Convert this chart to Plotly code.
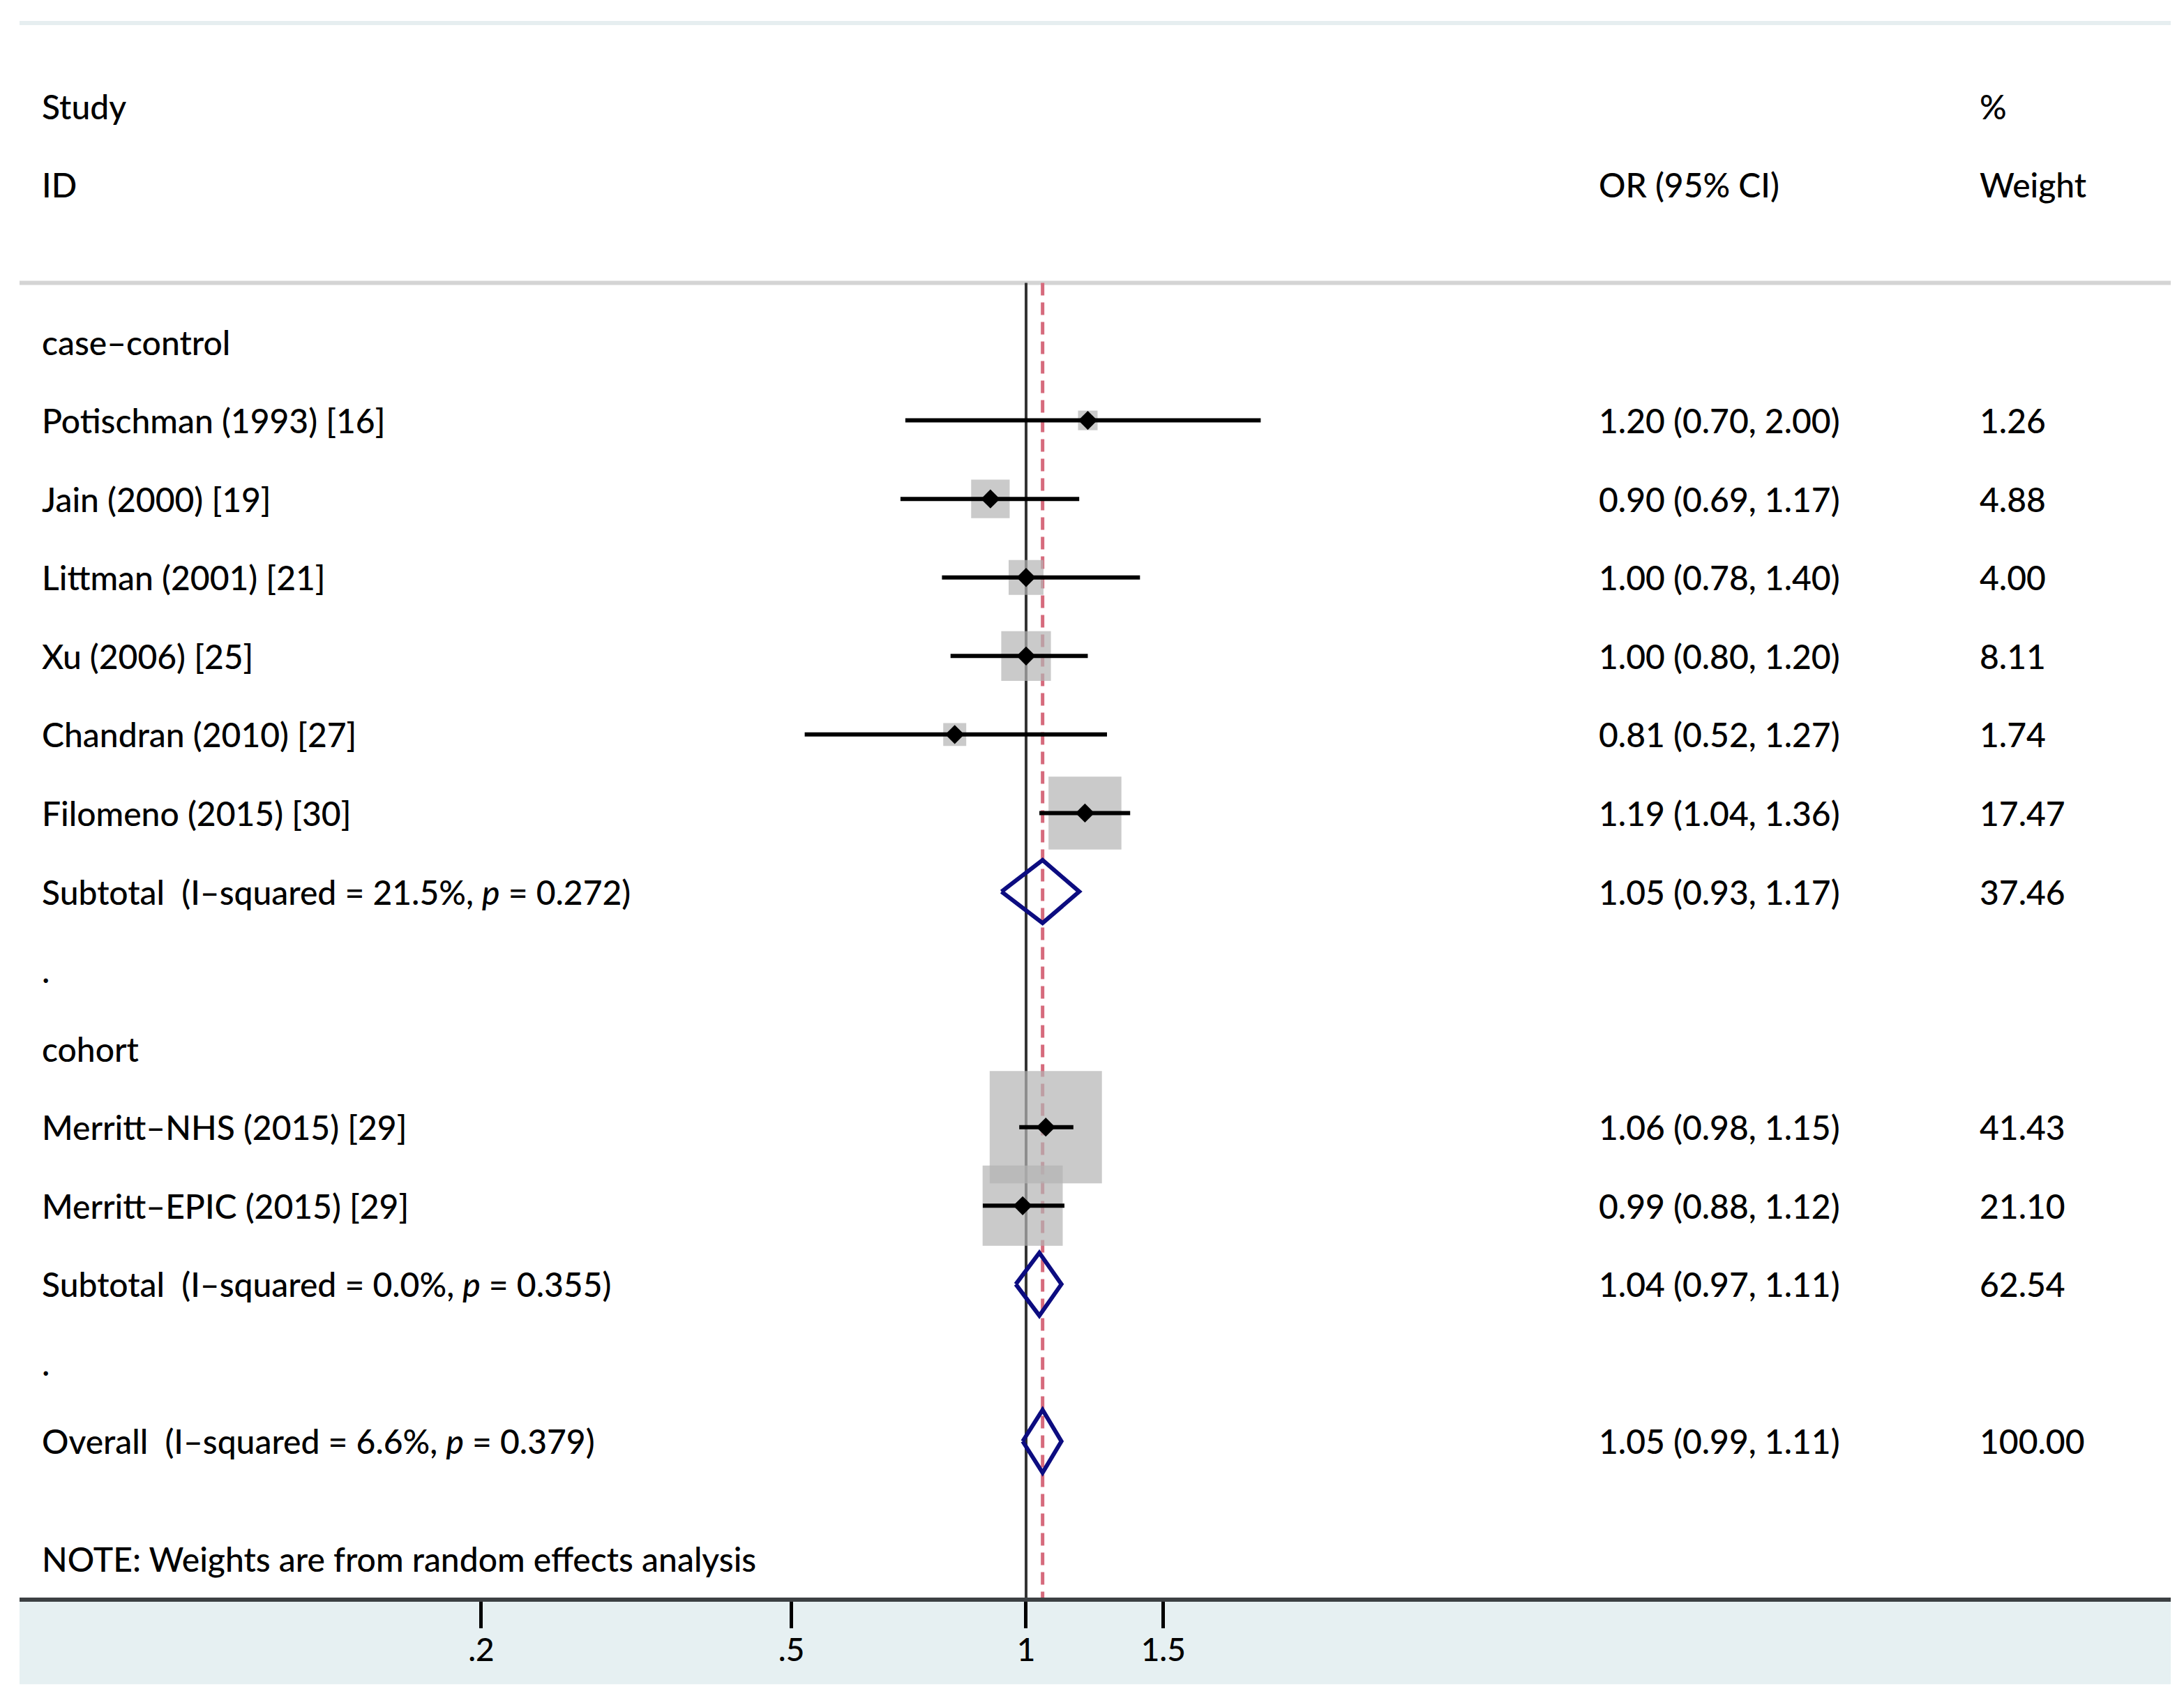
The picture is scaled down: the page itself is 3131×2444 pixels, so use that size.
import plotly.graph_objects as go

# forest plot rows (0 = top row below the header line)
study_names = ["Potischman (1993) [16]", "Jain (2000) [19]", "Littman (2001) [21]",
               "Xu (2006) [25]", "Chandran (2010) [27]", "Filomeno (2015) [30]",
               "Merritt\u2013NHS (2015) [29]", "Merritt\u2013EPIC (2015) [29]"]
study_rows = [1, 2, 3, 4, 5, 6, 10, 11]
study_or = [1.20, 0.90, 1.00, 1.00, 0.81, 1.19, 1.06, 0.99]
study_lo = [0.70, 0.69, 0.78, 0.80, 0.52, 1.04, 0.98, 0.88]
study_hi = [2.00, 1.17, 1.40, 1.20, 1.27, 1.36, 1.15, 1.12]
study_weight = [1.26, 4.88, 4.00, 8.11, 1.74, 17.47, 41.43, 21.10]

pooled_names = ["Subtotal\u00a0\u00a0(I\u2013squared = 21.5%, <i>p</i> = 0.272)",
                "Subtotal\u00a0\u00a0(I\u2013squared = 0.0%, <i>p</i> = 0.355)",
                "Overall\u00a0\u00a0(I\u2013squared = 6.6%, <i>p</i> = 0.379)"]
pooled_rows = [7, 12, 14]
pooled_or = [1.05, 1.04, 1.05]
pooled_lo = [0.93, 0.97, 0.99]
pooled_hi = [1.17, 1.11, 1.11]
pooled_weight = [37.46, 62.54, 100.00]

group_names = ["case\u2013control", "cohort"]
group_rows = [0, 9]
spacer_rows = [8, 13]

overall_or = 1.05
tick_vals = [0.2, 0.5, 1, 1.5]
tick_text = [".2", ".5", "1", "1.5"]
note_text = "NOTE: Weights are from random effects analysis"

FONT = "Lato, sans-serif"
# the page adds an 8px body margin, so the figure is 8px smaller
W, H = 3123, 2436
Y_TOP, Y_BOT = -4.06, 15.99

fig = go.Figure()

# weight boxes
fig.add_trace(go.Scatter(
    x=study_or, y=study_rows, mode="markers",
    marker=dict(symbol="square", color="#b3b3b3",
                size=[25 * w ** 0.5 for w in study_weight], line_width=0),
    hoverinfo="skip", showlegend=False,
))

# confidence intervals
for r, lo, hi in zip(study_rows, study_lo, study_hi):
    fig.add_trace(go.Scatter(
        x=[lo, hi], y=[r, r], mode="lines",
        line=dict(color="black", width=6), hoverinfo="skip", showlegend=False,
    ))

# point estimates
fig.add_trace(go.Scatter(
    x=study_or, y=study_rows, mode="markers",
    marker=dict(symbol="diamond", color="black", size=21, line_width=0),
    hoverinfo="skip", showlegend=False,
))

# pooled diamonds
for r, est, lo, hi in zip(pooled_rows, pooled_or, pooled_lo, pooled_hi):
    fig.add_trace(go.Scatter(
        x=[lo, est, hi, est, lo], y=[r, r - 0.4, r, r + 0.4, r], mode="lines",
        line=dict(color="#0c0c80", width=6), hoverinfo="skip", showlegend=False,
    ))

# reference lines
fig.add_shape(type="line", x0=1, x1=1, y0=-0.75, y1=Y_BOT, xref="x", yref="y",
              line=dict(color="#333333", width=4), layer="below")
fig.add_shape(type="line", x0=overall_or, x1=overall_or, y0=-0.75, y1=Y_BOT,
              xref="x", yref="y", layer="below",
              line=dict(color="#d66a7c", width=5, dash="18px,10px"))

# header separator and frame lines
fig.add_shape(type="line", x0=0, x1=1, y0=-0.75, y1=-0.75, xref="paper", yref="y",
              line=dict(color="#d4d4d4", width=6), layer="below")
fig.add_shape(type="line", x0=0, x1=1, y0=1, y1=1, xref="paper", yref="paper",
              line=dict(color="#e6eef0", width=6), layer="below")
# bottom band behind the axis
fig.add_shape(type="rect", x0=0, x1=1, y0=-0.055, y1=0, xref="paper", yref="paper",
              fillcolor="#e6f0f2", line_width=0, layer="below")

ann = []
def txt(x, y, s):
    ann.append(dict(x=x, y=y, xref="paper", yref="y", text=s, showarrow=False,
                    xanchor="left", yanchor="middle",
                    font=dict(size=48, color="black", weight=500)))

X_LAB, X_OR, X_WT = 0.0097, 0.7335, 0.9105
txt(X_LAB, -3, "Study")
txt(X_LAB, -2, "ID")
txt(X_OR, -2, "OR (95% CI)")
txt(X_WT, -3, "%")
txt(X_WT, -2, "Weight")

for name, r in zip(group_names, group_rows):
    txt(X_LAB, r, name)
for r in spacer_rows:
    txt(X_LAB, r, ".")
for name, r, est, lo, hi, w in zip(study_names, study_rows, study_or, study_lo, study_hi, study_weight):
    txt(X_LAB, r, name)
    txt(X_OR, r, f"{est:.2f} ({lo:.2f}, {hi:.2f})")
    txt(X_WT, r, f"{w:.2f}")
for name, r, est, lo, hi, w in zip(pooled_names, pooled_rows, pooled_or, pooled_lo, pooled_hi, pooled_weight):
    txt(X_LAB, r, name)
    txt(X_OR, r, f"{est:.2f} ({lo:.2f}, {hi:.2f})")
    txt(X_WT, r, f"{w:.2f}")
txt(X_LAB, 15.5, note_text)

fig.update_layout(
    width=W, height=H,
    margin=dict(l=20, r=19, t=25, b=154),
    paper_bgcolor="white", plot_bgcolor="white",
    font=dict(family=FONT, size=48, color="black"),
    annotations=ann,
    showlegend=False,
    xaxis=dict(type="log", range=[-1.2913, 1.4685], tickvals=tick_vals, ticktext=tick_text,
               ticks="outside", ticklen=38, tickwidth=5, tickcolor="black",
               tickfont=dict(size=46, weight=500), ticklabelstandoff=-8,
               showgrid=False, zeroline=False,
               showline=True, linecolor="#3c4043", linewidth=6),
    yaxis=dict(range=[Y_BOT, Y_TOP], visible=False, showgrid=False, zeroline=False),
)

fig.write_html("out.html")
